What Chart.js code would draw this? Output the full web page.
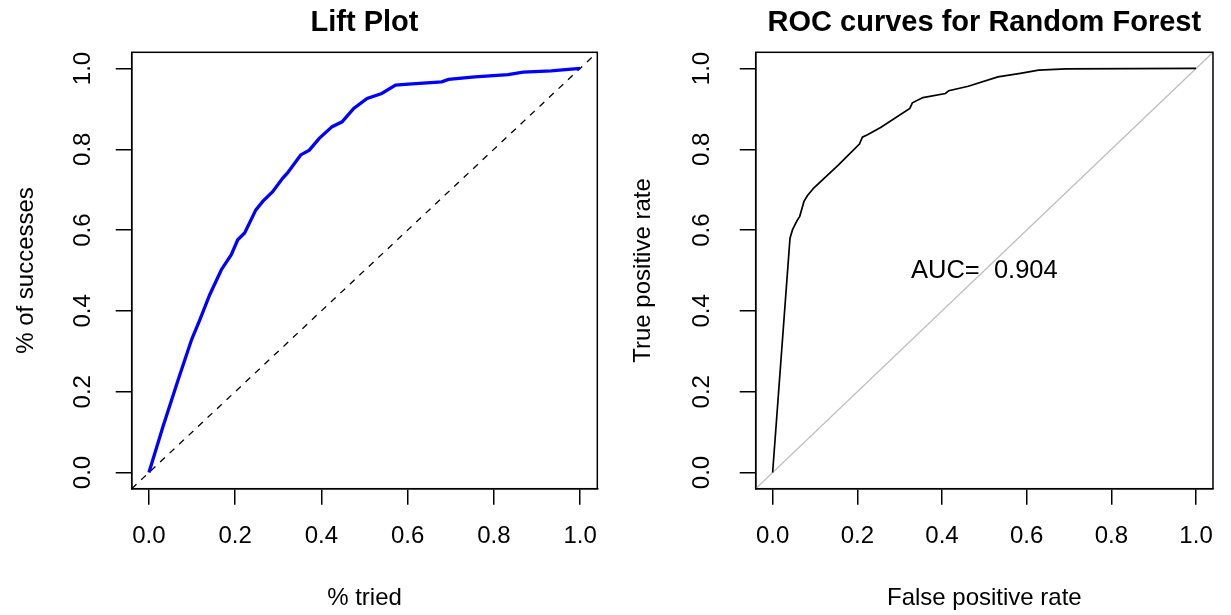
<!DOCTYPE html>
<html>
<head>
<meta charset="utf-8">
<script src="https://cdn.jsdelivr.net/npm/chart.js@4.4.1/dist/chart.umd.min.js"></script>
<style>
  html, body { margin: 0; padding: 0; background: #fff; }
  #wrap { position: relative; width: 1231px; height: 615px; }
  .panel { position: absolute; top: 0; height: 615px; }
  #liftPanel { left: 0; width: 615px; }
  #rocPanel { left: 615px; width: 616px; }
</style>
</head>
<body>
<div id="wrap">
  <div class="panel" id="liftPanel"><canvas id="liftChart" width="615" height="615"></canvas></div>
  <div class="panel" id="rocPanel"><canvas id="rocChart" width="616" height="615"></canvas></div>
</div>
<script>
// Axis setup shared by both panels
const tickValues = [0, 0.2, 0.4, 0.6, 0.8, 1.0];
const axisMin = -0.04;
const axisMax = 1.04;
const diagonal = [axisMin, axisMax];

// Lift curve (% tried vs % of successes)
const liftX = [0, 0.033, 0.068, 0.099, 0.118, 0.141, 0.168, 0.191, 0.206, 0.222, 0.248, 0.264, 0.287, 0.310, 0.321, 0.352, 0.372, 0.395, 0.425, 0.448, 0.475, 0.506, 0.540, 0.572, 0.602, 0.679, 0.695, 0.756, 0.833, 0.868, 0.933, 1.0];
const liftY = [0, 0.115, 0.230, 0.329, 0.378, 0.440, 0.502, 0.539, 0.576, 0.593, 0.650, 0.671, 0.695, 0.728, 0.741, 0.786, 0.798, 0.827, 0.856, 0.868, 0.901, 0.926, 0.938, 0.959, 0.961, 0.967, 0.973, 0.979, 0.985, 0.991, 0.994, 1.0];

// ROC curve (false positive rate vs true positive rate)
const rocX = [0, 0.041, 0.047, 0.058, 0.064, 0.074, 0.082, 0.097, 0.155, 0.205, 0.212, 0.224, 0.255, 0.324, 0.330, 0.355, 0.408, 0.416, 0.462, 0.532, 0.585, 0.628, 0.693, 1.0];
const rocY = [0, 0.580, 0.601, 0.624, 0.634, 0.671, 0.685, 0.704, 0.761, 0.813, 0.830, 0.836, 0.854, 0.901, 0.915, 0.928, 0.938, 0.945, 0.956, 0.979, 0.988, 0.996, 0.999, 1.0];

const aucText = 'AUC=  0.904';
const aucAt = [0.5, 0.5];

const FONT = '"Liberation Sans", Arial, Helvetica, sans-serif';
Chart.defaults.font.family = FONT;
Chart.defaults.color = '#000';

const toPoints = (xs, ys) => xs.map((x, i) => ({ x: x, y: ys[i] }));

// Draws the full box round the plot region, like R's box()
const plotBox = {
    id: 'plotBox',
    afterDatasetsDraw(chart) {
        const { ctx, chartArea: a } = chart;
        ctx.save();
        ctx.strokeStyle = '#000';
        ctx.lineWidth = 1.5;
        ctx.strokeRect(a.left, a.top, a.right - a.left, a.bottom - a.top);
        ctx.restore();
    }
};

// AUC text placed in data coordinates
const aucLabel = {
    id: 'aucLabel',
    afterDatasetsDraw(chart) {
        const { ctx, scales } = chart;
        ctx.save();
        ctx.font = '25.5px ' + FONT;
        ctx.fillStyle = '#000';
        ctx.textAlign = 'center';
        ctx.textBaseline = 'middle';
        ctx.fillText(aucText, scales.x.getPixelForValue(aucAt[0]), scales.y.getPixelForValue(aucAt[1]));
        ctx.restore();
    }
};

function buildOptions(o) {
    const axisBase = {
        type: 'linear',
        min: axisMin,
        max: axisMax,
        afterBuildTicks: s => { s.ticks = tickValues.map(v => ({ value: v })); },
        grid: { drawOnChartArea: false, tickLength: 16, color: '#000', lineWidth: 1.5 },
        border: { color: '#000', width: 1.5 }
    };
    return {
        responsive: false,
        animation: false,
        layout: { padding: { top: 0, left: 0, bottom: 0, right: o.padRight } },
        plugins: {
            legend: { display: false },
            tooltip: { enabled: false },
            title: {
                display: true,
                text: o.title,
                fullSize: false,
                color: '#000',
                font: { size: 29, weight: 'bold' },
                padding: { top: 5.25, bottom: 12.25 }
            }
        },
        scales: {
            x: Object.assign({}, axisBase, {
                afterFit: s => { s.height = 126.3; },
                ticks: { autoSkip: false, maxRotation: 0, padding: 17.6, font: { size: 24 }, callback: v => v.toFixed(1) },
                title: { display: true, text: o.xTitle, font: { size: 24 }, padding: { top: 0, bottom: 2 } }
            }),
            y: Object.assign({}, axisBase, {
                afterFit: s => { s.width = o.yWidth; },
                ticks: { autoSkip: false, minRotation: 90, maxRotation: 90, crossAlign: 'center', padding: o.yTickPad, font: { size: 24 }, callback: v => v.toFixed(1) },
                title: { display: true, text: o.yTitle, font: { size: 24 }, padding: { top: o.yTitlePad, bottom: 0 } }
            })
        }
    };
}

// Lift plot
new Chart(document.getElementById('liftChart').getContext('2d'), {
    type: 'line',
    data: {
        datasets: [{
            data: toPoints(liftX, liftY),
            borderColor: '#0000ff',
            borderWidth: 3.3,
            pointRadius: 0,
            tension: 0
        }, {
            data: toPoints(diagonal, diagonal),
            borderColor: '#000',
            borderWidth: 1.3,
            borderDash: [6.5, 6.5],
            pointRadius: 0
        }]
    },
    options: buildOptions({
        title: 'Lift Plot', xTitle: '% tried', yTitle: '% of successes',
        padRight: 15.5, yWidth: 131.7, yTickPad: 15.3, yTitlePad: 12.3
    }),
    plugins: [plotBox]
});

// ROC plot
new Chart(document.getElementById('rocChart').getContext('2d'), {
    type: 'line',
    data: {
        datasets: [{
            data: toPoints(rocX, rocY),
            borderColor: '#000',
            borderWidth: 1.7,
            pointRadius: 0,
            tension: 0
        }, {
            data: toPoints(diagonal, diagonal),
            borderColor: '#bebebe',
            borderWidth: 1.3,
            pointRadius: 0
        }]
    },
    options: buildOptions({
        title: 'ROC curves for Random Forest', xTitle: 'False positive rate', yTitle: 'True positive rate',
        padRight: 7, yWidth: 140.7, yTickPad: 20.5, yTitlePad: 14.3
    }),
    plugins: [plotBox, aucLabel]
});
</script>
</body>
</html>
